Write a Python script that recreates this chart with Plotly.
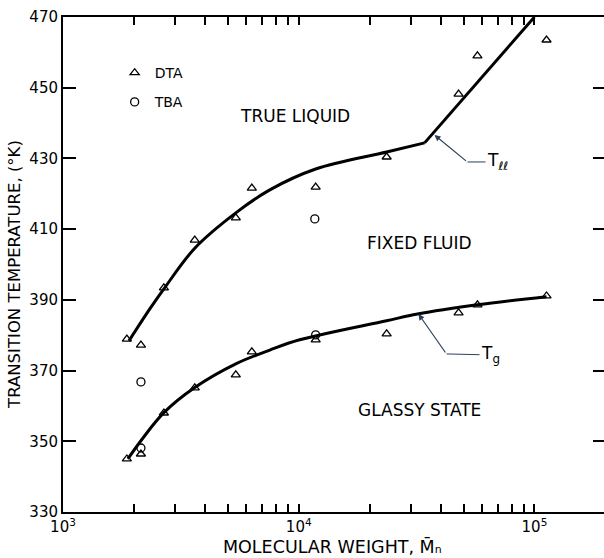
import math
import plotly.graph_objects as go

# ---- data ----
dta_tll_M = [1866, 2141, 2679, 3622, 5408, 6325, 11800, 23600, 47650, 57300, 112500]
dta_tll_T = [378.9, 377.2, 393.4, 406.9, 413.2, 421.6, 421.9, 430.4, 448.2, 459.0, 463.5]
dta_tg_M = [1866, 2141, 2679, 3622, 5408, 6325, 11800, 23600, 47650, 57300, 112500]
dta_tg_T = [345.0, 346.4, 358.0, 365.1, 368.8, 375.3, 378.7, 380.4, 386.3, 388.6, 391.1]
tba_M = [2141, 11700, 2141, 11800]
tba_T = [366.8, 412.9, 348.1, 380.1]

tll_curve_M = [1905, 2339, 2679, 3622, 5408, 7540, 11800, 23600, 34200]
tll_curve_T = [378.4, 387.5, 393.1, 404.6, 414.6, 421.1, 427.0, 431.8, 434.4]
tll_line_M = [34200, 100000]
tll_line_T = [434.4, 470.0]
tg_curve_M = [1884, 2188, 2679, 3622, 5408, 7540, 10090, 23600, 31900, 57300, 112500]
tg_curve_T = [345.0, 351.0, 358.1, 365.2, 371.9, 375.8, 378.7, 384.1, 386.0, 388.6, 390.9]

y_ticks = [330, 350, 370, 390, 410, 430, 450, 470]
x_mult = [m for e in (3, 4) for m in range(1, 10)] + [1]
x_ticks = [m * 10 ** e for e in (3, 4) for m in range(1, 10)] + [100000]
x_ticktext = ["10<sup>%d</sup>" % int(round(math.log10(v))) if m == 1 else ""
              for v, m in zip(x_ticks, x_mult)]

FONT = "DejaVu Sans"
fig = go.Figure()

fig.add_trace(go.Scatter(x=tll_curve_M, y=tll_curve_T, mode="lines",
                         line=dict(color="black", width=3, shape="spline", smoothing=1.0),
                         showlegend=False, hoverinfo="skip"))
fig.add_trace(go.Scatter(x=tll_line_M, y=tll_line_T, mode="lines",
                         line=dict(color="black", width=3),
                         showlegend=False, hoverinfo="skip"))
fig.add_trace(go.Scatter(x=tg_curve_M, y=tg_curve_T, mode="lines",
                         line=dict(color="black", width=3, shape="spline", smoothing=1.0),
                         showlegend=False, hoverinfo="skip"))

tri = dict(symbol="triangle-up-open", size=8, color="black", line=dict(width=1.3, color="black"))
circ = dict(symbol="circle-open", size=8, color="black", line=dict(width=1.3, color="black"))
fig.add_trace(go.Scatter(x=dta_tll_M, y=dta_tll_T, mode="markers", marker=tri,
                         name="DTA", legendgroup="dta", showlegend=True))
fig.add_trace(go.Scatter(x=dta_tg_M, y=dta_tg_T, mode="markers", marker=tri,
                         name="DTA", legendgroup="dta", showlegend=False))
fig.add_trace(go.Scatter(x=tba_M, y=tba_T, mode="markers", marker=circ,
                         name="TBA", legendgroup="tba", showlegend=True))
fig.add_trace(go.Scatter(x=[None], y=[None], yaxis="y2", showlegend=False, hoverinfo="skip"))

annots = [
    dict(x=3.983, y=442.0, text="TRUE LIQUID", showarrow=False, font=dict(size=17)),
    dict(x=4.513, y=406.1, text="FIXED FLUID", showarrow=False, font=dict(size=17)),
    dict(x=4.513, y=358.9, text="GLASSY STATE", showarrow=False, font=dict(size=17)),
    # T_ll leader
    dict(x=4.576, y=436.6, text="", showarrow=True, arrowhead=2, arrowsize=1, arrowwidth=1.2,
         ax=33, ay=27),
    dict(x=4.716, y=429.0, text="T<sub>ℓℓ</sub>", showarrow=True, arrowhead=0, arrowwidth=1,
         ax=30, ay=0, font=dict(size=17)),
    # T_g leader
    dict(x=4.508, y=386.0, text="", showarrow=True, arrowhead=2, arrowsize=1, arrowwidth=1.2,
         ax=28, ay=40),
    dict(x=4.627, y=374.7, text="T<sub>g</sub>", showarrow=True, arrowhead=0, arrowwidth=1,
         ax=44, ay=1, font=dict(size=17)),
]
for a in annots:
    a["xref"] = "x"
    a["yref"] = "y"
    a["font"] = dict(family=FONT, color="black", size=a.get("font", {}).get("size", 14))

# axis titles placed as paper annotations
annots.append(dict(xref="paper", yref="paper", x=-0.0887, y=0.479, textangle=-90,
                   xanchor="center", yanchor="middle",
                   text="TRANSITION TEMPERATURE, (°K)", showarrow=False,
                   font=dict(family=FONT, color="black", size=16.5)))
annots.append(dict(xref="paper", yref="paper", x=0.498, y=-0.0707,
                   xanchor="center", yanchor="middle",
                   text="MOLECULAR WEIGHT, M\u0304\u2099", showarrow=False,
                   font=dict(family=FONT, color="black", size=17.5)))

fig.update_layout(
    width=604, height=558,
    margin=dict(l=63, r=0, t=17, b=46),
    paper_bgcolor="white", plot_bgcolor="white",
    font=dict(family=FONT, color="black", size=14),
    xaxis=dict(type="log", range=[3, 5.295], tickvals=x_ticks, ticktext=x_ticktext,
               ticks="inside", ticklen=8, tickwidth=1.5, tickcolor="black",
               showline=True, linecolor="black", linewidth=2, mirror="ticks",
               showgrid=False, zeroline=False,
               tickfont=dict(family=FONT, size=15), automargin=False),
    yaxis=dict(range=[330, 470], tickvals=y_ticks,
               ticks="inside", ticklen=13, tickwidth=1.5, tickcolor="black",
               showline=True, linecolor="black", linewidth=2, mirror=False,
               showgrid=False, zeroline=False,
               tickfont=dict(family=FONT, size=15), automargin=False),
    yaxis2=dict(range=[330, 470], tickvals=y_ticks, overlaying="y", side="right",
                ticks="inside", ticklen=11, tickwidth=1.5, tickcolor="black",
                showticklabels=False, showline=False, showgrid=False, zeroline=False),
    legend=dict(x=0.0955, y=0.919, xanchor="left", yanchor="top", bgcolor="rgba(0,0,0,0)",
                itemwidth=30, tracegroupgap=8, font=dict(family=FONT, size=14)),
    annotations=annots,
)

fig.write_html("out.html")
